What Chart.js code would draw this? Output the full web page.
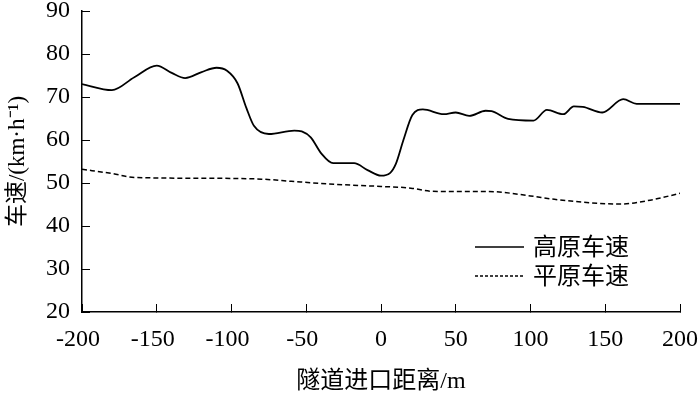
<!DOCTYPE html>
<html>
<head>
<meta charset="utf-8">
<script src="https://cdn.jsdelivr.net/npm/chart.js@4"></script>
<style>
  html, body { margin: 0; padding: 0; background: #fff; }
  #wrap { width: 700px; height: 393px; }
</style>
</head>
<body>
<div id="wrap"><canvas id="speedChart" width="700" height="393"></canvas></div>
<script>
// 隧道进口距离 (m) 与 车速 (km/h)
const plateauX = [-200, -180, -165, -150, -140, -131, -120, -110, -103, -96, -90, -85, -75, -58, -53, -47, -40, -32, -18, -9, 0, 6, 10, 15, 21, 28, 42, 50, 59, 70, 74, 85, 102, 111, 122, 129, 135, 148, 162, 171, 200];
const plateauY = [73, 71.6, 74.6, 77.3, 75.6, 74.4, 75.8, 76.8, 76.1, 73.2, 67.4, 63.3, 61.4, 62.2, 62, 60.6, 56.9, 54.6, 54.6, 53, 51.7, 52.3, 54.5, 60, 65.8, 67.1, 66, 66.4, 65.6, 66.8, 66.7, 64.9, 64.5, 67, 66, 67.8, 67.7, 66.4, 69.5, 68.4, 68.4];

const plainX = [-200, -180, -165, -120, -80, -60, -40, -20, 0, 20, 33, 50, 72, 100, 116, 160, 180, 200];
const plainY = [53.2, 52.2, 51.3, 51.1, 50.9, 50.4, 49.9, 49.5, 49.2, 48.8, 48.1, 48, 48, 47, 46.2, 45.1, 46, 47.6];

const xTicks = [-200, -150, -100, -50, 0, 50, 100, 150, 200];
const yTicks = [20, 30, 40, 50, 60, 70, 80, 90];

const toPoints = (xs, ys) => xs.map((x, i) => ({ x: x, y: ys[i] }));

const serif = "'Liberation Serif', 'Noto Sans CJK SC', serif";
const cjk = "'Noto Sans CJK SC', sans-serif";

// 图例画在图内右下
const innerLegend = {
    id: "innerLegend",
    afterDraw(chart) {
        const ctx = chart.ctx;
        const items = [
            { ds: chart.data.datasets[0], y: 247, dash: [] },
            { ds: chart.data.datasets[1], y: 276, dash: [3, 2] }
        ];
        ctx.save();
        items.forEach(it => {
            ctx.beginPath();
            ctx.setLineDash(it.dash);
            ctx.lineWidth = 1.5;
            ctx.strokeStyle = "#000";
            ctx.moveTo(475, it.y);
            ctx.lineTo(524, it.y);
            ctx.stroke();
            ctx.setLineDash([]);
            ctx.fillStyle = "#000";
            ctx.font = "24px " + cjk;
            ctx.textBaseline = "middle";
            ctx.fillText(it.ds.label, 533, it.y - 1);
        });
        ctx.restore();
    }
};

const ctx = document.getElementById("speedChart").getContext("2d");
new Chart(ctx, {
    type: "line",
    data: {
        datasets: [{
            label: "高原车速",
            data: toPoints(plateauX, plateauY),
            borderColor: "#000",
            borderWidth: 1.8,
            pointRadius: 0,
            fill: false,
            cubicInterpolationMode: "monotone"
        }, {
            label: "平原车速",
            data: toPoints(plainX, plainY),
            borderColor: "#000",
            borderWidth: 1.5,
            borderDash: [5, 3],
            pointRadius: 0,
            fill: false,
            cubicInterpolationMode: "monotone"
        }]
    },
    options: {
        responsive: false,
        animation: false,
        layout: { padding: { top: 11, right: 20, left: 0, bottom: 0 } },
        plugins: {
            legend: { display: false },
            tooltip: { enabled: false }
        },
        scales: {
            x: {
                type: "linear",
                min: -200,
                max: 200,
                afterBuildTicks: axis => { axis.ticks = xTicks.map(v => ({ value: v })); },
                grid: {
                    display: true,
                    drawOnChartArea: false,
                    drawTicks: true,
                    tickLength: -8,
                    color: "#000"
                },
                border: { display: true, color: "#000", width: 1.5 },
                ticks: {
                    color: "#000",
                    font: { family: serif, size: 24 },
                    padding: 21,
                    maxRotation: 0,
                    // 负号不参与居中
                    callback: v => v < 0 ? v + "\u2004" : "" + v
                },
                title: {
                    display: true,
                    text: "隧道进口距离/m",
                    color: "#000",
                    font: { family: serif, size: 24 },
                    padding: { top: 4, bottom: -3 }
                },
                afterFit: axis => {
                    axis.height = 81;
                    axis.paddingLeft = 0;
                    axis.paddingRight = 0;
                }
            },
            y: {
                min: 20,
                max: 90,
                afterBuildTicks: axis => { axis.ticks = yTicks.map(v => ({ value: v })); },
                grid: {
                    display: true,
                    drawOnChartArea: false,
                    drawTicks: true,
                    tickLength: -8,
                    color: "#000"
                },
                border: { display: true, color: "#000", width: 1.5 },
                ticks: {
                    color: "#000",
                    font: { family: serif, size: 24 },
                    padding: 20
                },
                title: {
                    display: true,
                    text: "车速/(km·h⁻¹)",
                    color: "#000",
                    font: { family: serif, size: 23 },
                    padding: { top: 4, bottom: 2 }
                },
                afterFit: axis => {
                    axis.width = 82;
                    axis.paddingTop = 0;
                    axis.paddingBottom = 0;
                }
            }
        }
    },
    plugins: [innerLegend]
});
</script>
</body>
</html>
